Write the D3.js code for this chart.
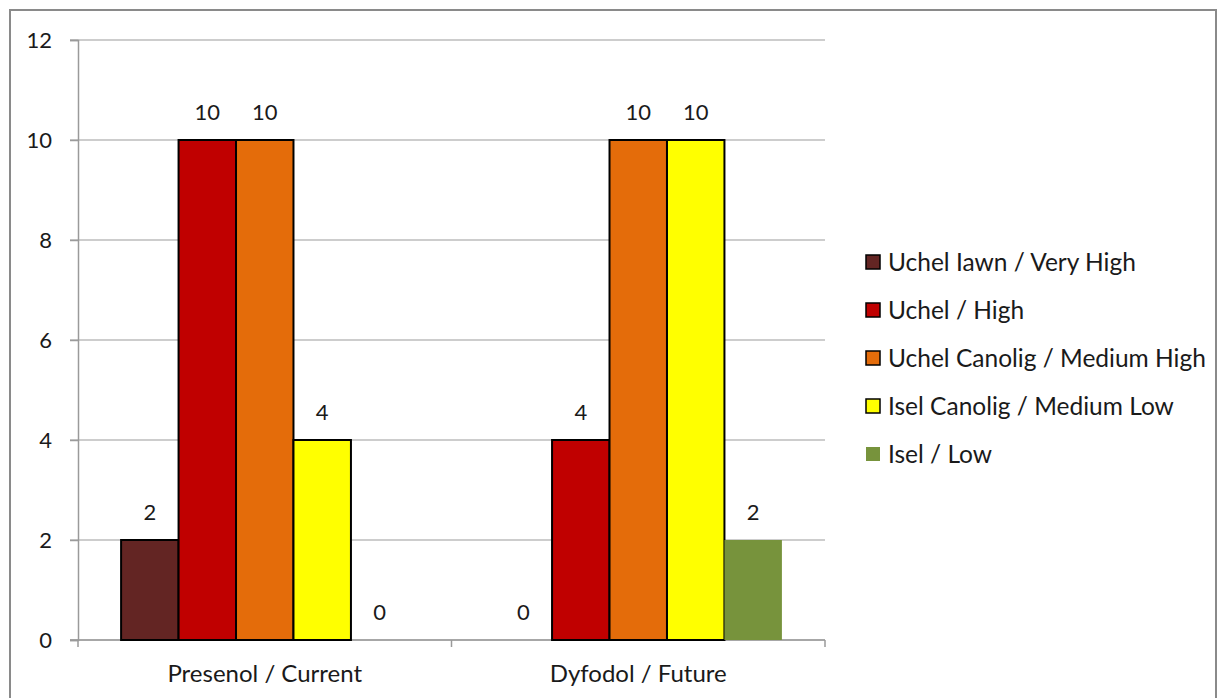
<!DOCTYPE html>
<html>
<head>
<meta charset="utf-8">
<script src="https://cdn.jsdelivr.net/npm/d3@7"></script>
<style>
body { margin: 0; background: #fff; }
text { font-family: Lato, "Open Sans", sans-serif; fill: #1a1a1a; }
</style>
</head>
<body>
<script>
var w = 1219;
var h = 698;

var categories = ["Presenol / Current", "Dyfodol / Future"];
var series = ["Uchel Iawn / Very High", "Uchel / High", "Uchel Canolig / Medium High", "Isel Canolig / Medium Low", "Isel / Low"];
var colors = ["#632523", "#c00000", "#e46c0a", "#ffff00", "#77933c"];
var current = [2, 10, 10, 4, 0];
var future = [0, 4, 10, 10, 2];
var yTicks = [0, 2, 4, 6, 8, 10, 12];

var values = [current, future];
var margin = {left: 78, right: 394, top: 40, bottom: 58};

var svg = d3.select("body")
    .append("svg")
    .attr("width", w)
    .attr("height", h);

// outer frame
svg.append("rect")
    .attr("x", 10).attr("y", 10)
    .attr("width", 1206).attr("height", 700)
    .attr("fill", "none")
    .attr("stroke", "#8a8a8a")
    .attr("stroke-width", 2);

var x0 = d3.scaleBand()
    .domain(categories)
    .range([margin.left, w - margin.right])
    .paddingInner(0)
    .paddingOuter(0);

var x1 = d3.scaleBand()
    .domain(d3.range(series.length))
    .range([0, x0.bandwidth()])
    .paddingOuter(0.75)
    .paddingInner(0);

var y = d3.scaleLinear()
    .domain([0, 12])
    .range([h - margin.bottom, margin.top]);

// gridlines
svg.append("g")
    .selectAll("line")
    .data(yTicks)
    .enter().append("line")
    .attr("x1", margin.left - 8)
    .attr("x2", w - margin.right)
    .attr("y1", function(d) { return y(d); })
    .attr("y2", function(d) { return y(d); })
    .attr("stroke", "#bdbdbd")
    .attr("stroke-width", 1.5);

// y axis
var yAxis = svg.append("g")
    .attr("transform", "translate(" + margin.left + ",0)")
    .call(d3.axisLeft(y).tickValues(yTicks).tickSize(8).tickPadding(18));
yAxis.select(".domain").attr("stroke", "#9a9a9a").attr("stroke-width", 1.5);
yAxis.selectAll(".tick line").attr("stroke", "#9a9a9a").attr("stroke-width", 1.5);
yAxis.selectAll("text").style("font-size", "22px").attr("fill", "#1a1a1a");

// x axis
var xAxis = svg.append("g")
    .attr("transform", "translate(0," + y(0) + ")");
xAxis.append("line")
    .attr("x1", margin.left - 8).attr("x2", w - margin.right)
    .attr("stroke", "#9a9a9a").attr("stroke-width", 1.5);
var xEdges = [margin.left].concat(categories.map(function(c) { return x0(c) + x0.bandwidth(); }));
xAxis.selectAll(".xt")
    .data(xEdges)
    .enter().append("line")
    .attr("x1", function(d) { return d; })
    .attr("x2", function(d) { return d; })
    .attr("y1", 0).attr("y2", 7)
    .attr("stroke", "#9a9a9a").attr("stroke-width", 1.5);
xAxis.selectAll(".xl")
    .data(categories)
    .enter().append("text")
    .attr("x", function(d) { return x0(d) + x0.bandwidth() / 2; })
    .attr("y", 42)
    .attr("text-anchor", "middle")
    .style("font-size", "24px")
    .text(function(d) { return d; });

// bars
var groups = svg.append("g")
    .selectAll("g")
    .data(categories)
    .enter().append("g")
    .attr("transform", function(d) { return "translate(" + x0(d) + ",0)"; });

groups.selectAll("rect")
    .data(function(d, i) { return values[i]; })
    .enter().append("rect")
    .attr("x", function(d, i) { return x1(i); })
    .attr("width", x1.bandwidth())
    .attr("y", function(d) { return y(d); })
    .attr("height", function(d) { return y(0) - y(d); })
    .attr("fill", function(d, i) { return colors[i]; })
    .attr("stroke", function(d, i) { return i === 4 ? "none" : "#000"; })
    .attr("stroke-width", 2)
    .style("display", function(d) { return d === 0 ? "none" : null; });

groups.selectAll("text")
    .data(function(d, i) { return values[i]; })
    .enter().append("text")
    .attr("x", function(d, i) { return x1(i) + x1.bandwidth() / 2; })
    .attr("y", function(d) { return y(d) - 20; })
    .attr("text-anchor", "middle")
    .style("font-size", "22px")
    .text(function(d) { return d; });

// legend
var legend = svg.append("g")
    .selectAll("g")
    .data(series)
    .enter().append("g")
    .attr("transform", function(d, i) { return "translate(866," + (262 + i * 48) + ")"; });

legend.append("rect")
    .attr("x", 0).attr("y", -7)
    .attr("width", 14).attr("height", 14)
    .attr("fill", function(d, i) { return colors[i]; })
    .attr("stroke", function(d, i) { return i === 4 ? "none" : "#000"; })
    .attr("stroke-width", 1.5);

legend.append("text")
    .attr("x", 22)
    .attr("y", 0)
    .attr("dy", "0.35em")
    .style("font-size", "24.5px")
    .text(function(d) { return d; });
</script>
</body>
</html>
